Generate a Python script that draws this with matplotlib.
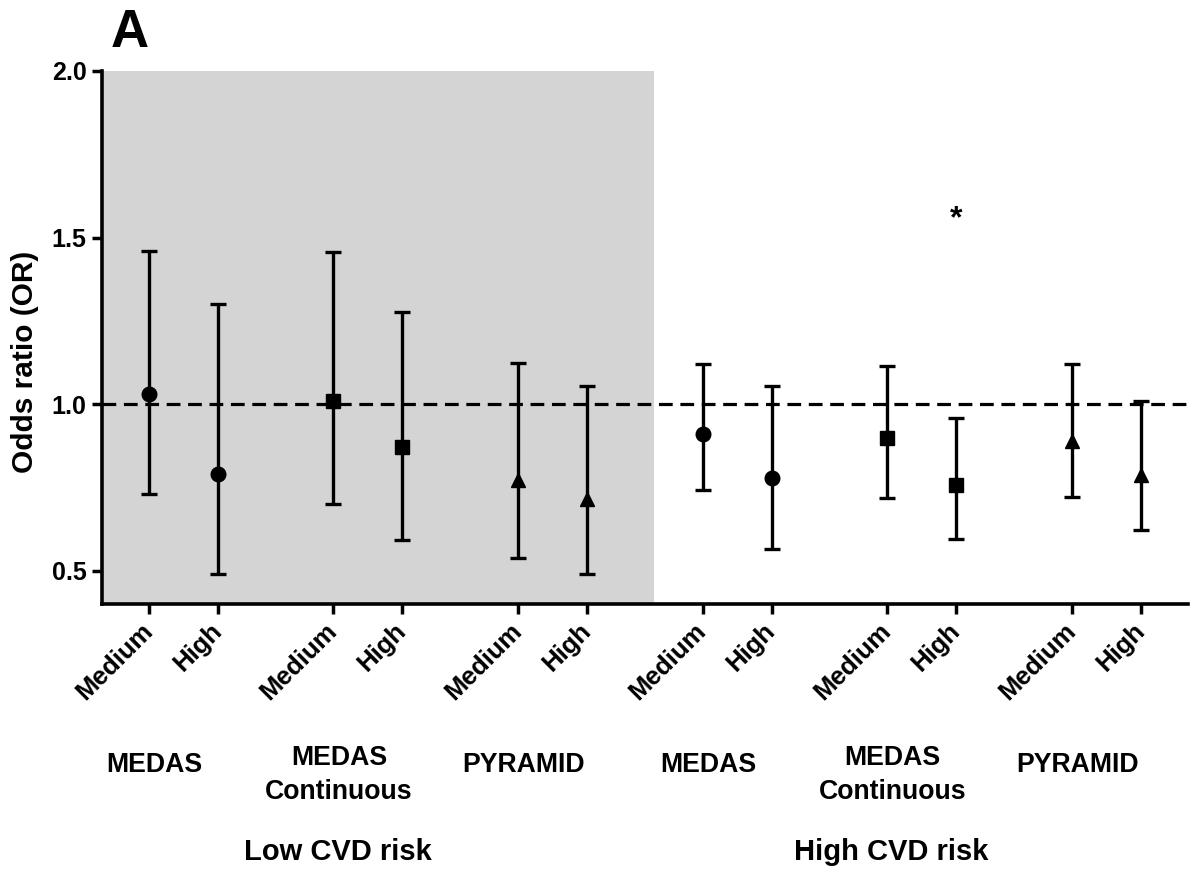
import matplotlib
matplotlib.use("Agg")
import matplotlib.pyplot as plt
import matplotlib.transforms as mtransforms
import numpy as np

plt.rcParams['font.family'] = ['Liberation Sans', 'DejaVu Sans']
plt.rcParams['font.weight'] = 'bold'

# ---- data ----
risk_groups = ["Low CVD risk", "High CVD risk"]
indices = ["MEDAS", "MEDAS\nContinuous", "PYRAMID"]
levels = ["Medium", "High"]
markers = ["o", "s", "^"]

# order: low risk (MEDAS M,H; MEDAS cont M,H; PYRAMID M,H), high risk (same)
or_point = [1.03, 0.79, 1.01, 0.87, 0.773, 0.715,
            0.91, 0.779, 0.897, 0.756, 0.89, 0.786]
or_lower = [0.73, 0.49, 0.70, 0.593, 0.538, 0.491,
            0.741, 0.566, 0.719, 0.595, 0.722, 0.623]
or_upper = [1.459, 1.301, 1.457, 1.278, 1.123, 1.055,
            1.12, 1.055, 1.115, 0.959, 1.12, 1.010]
significant = [False, False, False, False, False, False,
               False, False, False, True, False, False]
star_y = 1.555

# ---- layout ----
fig = plt.figure(figsize=(12, 8.76), dpi=100)
ax = fig.add_axes([102/1200, 1-604/876, 1086/1200, 533/876])

group_step = 2.675
first = 0.68
positions = []
for g in range(6):
    for k in range(2):
        positions.append(first + g*group_step + k)
positions = np.array(positions)

ax.axvspan(0, 8.0, color='#d4d4d4', zorder=0, lw=0)
ax.axhline(1.0, color='black', lw=2.3, dashes=(4.3, 2.4), zorder=1)

for i, x in enumerate(positions):
    g = (i // 2) % 3
    y = or_point[i]
    ax.errorbar([x], [y], yerr=[[y - or_lower[i]], [or_upper[i] - y]],
                fmt=markers[g], color='black', ms=10.5,
                elinewidth=2.4, capsize=5.5, capthick=2.4, zorder=3)
    if significant[i]:
        ax.text(x, star_y, "*", ha='center', va='center',
                fontsize=23, fontweight='bold')

ax.set_xlim(0, 15.74)
ax.set_ylim(0.4, 2.0)
ax.set_yticks([0.5, 1.0, 1.5, 2.0])
ax.set_yticklabels(["0.5", "1.0", "1.5", "2.0"], fontsize=18, fontweight='bold')
ax.set_xticks(positions)
ax.set_xticklabels(levels * 6, rotation=45, ha='right', va='center',
                   rotation_mode='anchor', fontsize=18.5, fontweight='bold')
ax.tick_params(axis='x', length=7, width=2.5, pad=10)
ax.tick_params(axis='y', length=7, width=2.5, pad=4)

for s in ['top', 'right']:
    ax.spines[s].set_visible(False)
for s in ['left', 'bottom']:
    ax.spines[s].set_linewidth(2.6)

ax.set_ylabel("Odds ratio (OR)", fontsize=21.5, fontweight='bold')
ax.yaxis.set_label_coords(-0.058, 0.454)

trans = mtransforms.blended_transform_factory(ax.transData, fig.transFigure)
for g in range(6):
    xm = positions[2*g] + 0.08
    label = indices[g % 3]
    if "\n" in label:
        ax.text(xm, 1 - 775/876, label, transform=trans, ha='center', va='center',
                fontsize=19.2, fontweight='bold', linespacing=1.38)
    else:
        ax.text(xm, 1 - 765/876, label, transform=trans, ha='center', va='center',
                fontsize=19.2, fontweight='bold')

for r in range(2):
    xc = positions[2 + 6*r] + 0.06
    ax.text(xc, 1 - 852/876, risk_groups[r], transform=trans, ha='center',
            va='center', fontsize=21, fontweight='bold')

fig.text(111/1200, 1 - 33/876, "A", fontsize=38, fontweight='bold',
         ha='left', va='center')

fig.savefig("out.png", dpi=100)
